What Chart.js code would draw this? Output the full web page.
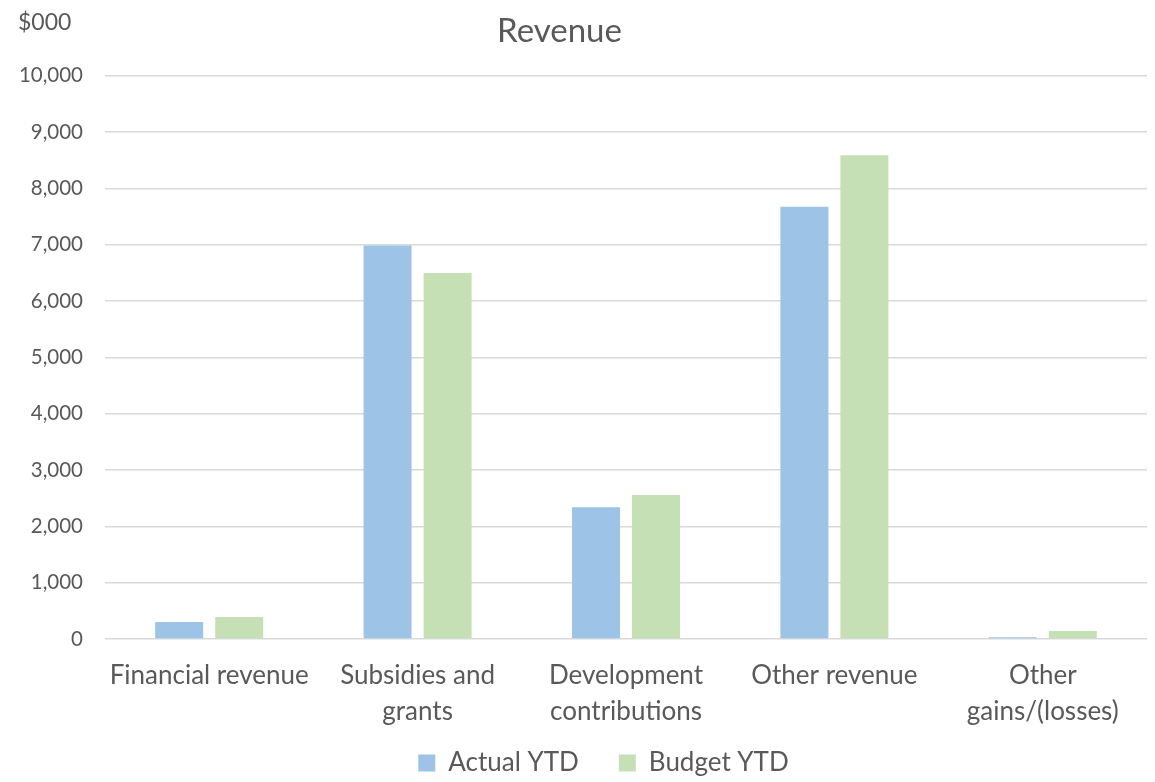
<!DOCTYPE html>
<html>
<head>
<meta charset="utf-8">
<script src="https://cdn.jsdelivr.net/npm/chart.js@4"></script>
<style>
  html, body { margin: 0; padding: 0; background: #fff; }
  #wrap { width: 1155px; height: 782px; }
</style>
</head>
<body>
<div id="wrap"><canvas id="myChart" width="1155" height="782"></canvas></div>
<script>
const categories = [
  'Financial revenue',
  ['Subsidies and', 'grants'],
  ['Development', 'contributions'],
  'Other revenue',
  ['Other', 'gains/(losses)']
];
const actualYTD = [300, 6985, 2340, 7670, 30];
const budgetYTD = [390, 6495, 2555, 8585, 140];
const yTicks = { min: 0, max: 10000, step: 1000 };

const textColor = '#595959';
const fontFamily = 'Lato, "Open Sans", sans-serif';

// unit label in the top-left corner
const unitLabel = {
  id: 'unitLabel',
  afterDraw(chart) {
    const c = chart.ctx;
    c.save();
    c.font = '23px ' + fontFamily;
    c.fillStyle = textColor;
    c.textBaseline = 'middle';
    c.textAlign = 'left';
    c.fillText('$000', 18, 23);
    c.restore();
  }
};

// nudge title and legend boxes: legend sits close under the axis labels
// with wide item spacing, title a bit left of the canvas middle
const boxNudge = {
  id: 'boxNudge',
  afterLayout(chart) {
    const lg = chart.legend;
    lg.top -= 20;
    lg.bottom = chart.height;
    lg.height = lg.bottom - lg.top;
    lg.left += 25;
    lg.right += 25;

    const tb = chart.titleBlock;
    tb.left -= 19;
    tb.right -= 19;
  }
};

const ctx = document.getElementById('myChart');

const myChart = new Chart(ctx, {
  type: 'bar',
  data: {
    labels: categories,
    datasets: [{
      label: 'Actual YTD',
      data: actualYTD,
      backgroundColor: '#9DC3E6',
      borderWidth: 0,
      barPercentage: 0.8,
      categoryPercentage: 0.576
    }, {
      label: 'Budget YTD',
      data: budgetYTD,
      backgroundColor: '#C5E0B4',
      borderWidth: 0,
      barPercentage: 0.8,
      categoryPercentage: 0.576
    }]
  },
  options: {
    responsive: false,
    animation: false,
    layout: {
      padding: { left: 10, right: 8, top: 0, bottom: 0 }
    },
    plugins: {
      title: {
        display: true,
        text: 'Revenue',
        color: textColor,
        font: { family: fontFamily, size: 33, weight: 'normal' },
        padding: { top: 12, bottom: 24 }
      },
      legend: {
        position: 'bottom',
        maxHeight: 52,
        labels: {
          color: textColor,
          font: { family: fontFamily, size: 26 },
          boxWidth: 17,
          boxHeight: 17,
          padding: 40
        }
      },
      tooltip: { enabled: false }
    },
    scales: {
      x: {
        grid: { display: false, drawTicks: false },
        border: { display: false },
        afterFit: scale => { scale.height = 91; },
        ticks: {
          color: textColor,
          font: { family: fontFamily, size: 26, lineHeight: 1.38 },
          maxRotation: 0,
          autoSkip: false,
          padding: 19
        }
      },
      y: {
        min: yTicks.min,
        max: yTicks.max,
        grid: { color: '#D9D9D9', lineWidth: 1.5, drawTicks: false },
        border: { display: false },
        afterFit: scale => { scale.width = 95; },
        ticks: {
          stepSize: yTicks.step,
          color: textColor,
          font: { family: fontFamily, size: 20.5 },
          padding: 22,
          callback: v => v.toLocaleString('en-US')
        }
      }
    }
  },
  plugins: [unitLabel, boxNudge]
});
</script>
</body>
</html>
